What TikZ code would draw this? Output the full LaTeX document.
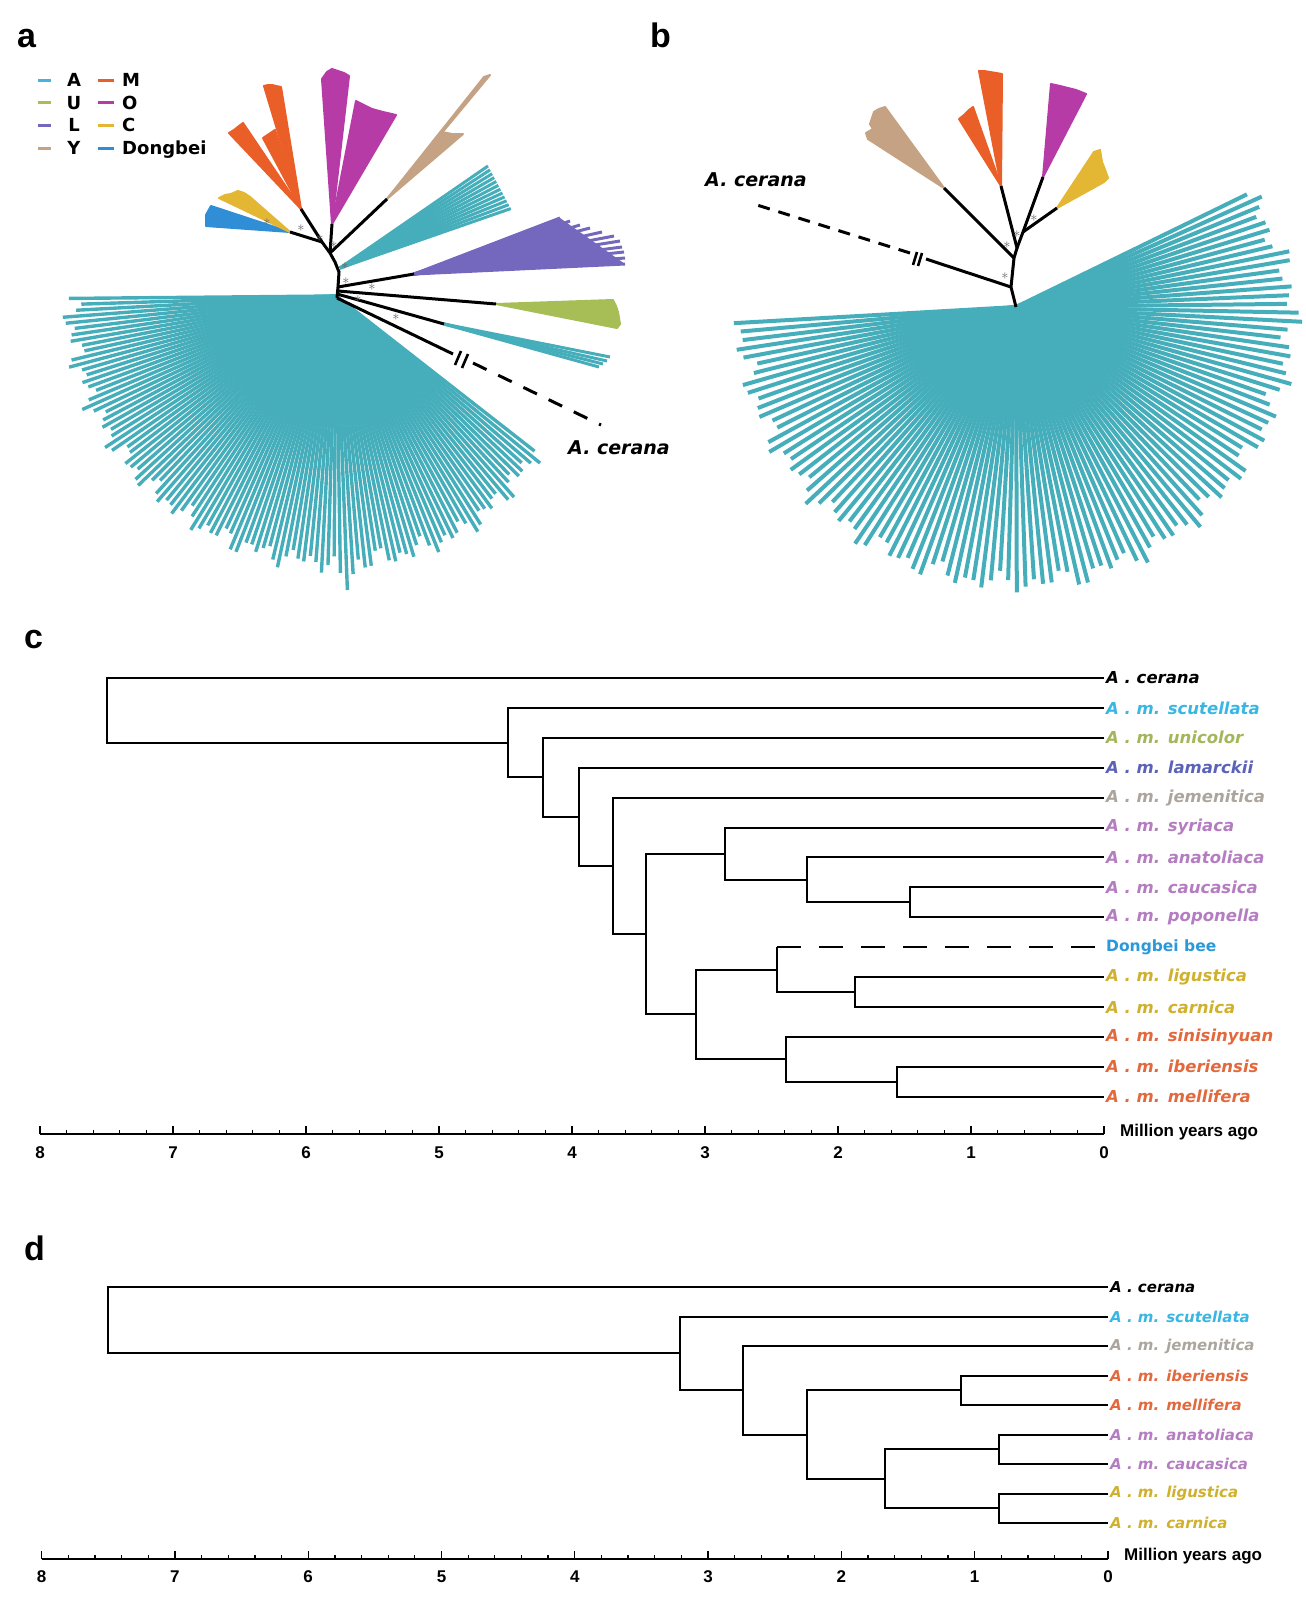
\documentclass[tikz,border=0pt]{standalone}
\usepackage{fontspec}
\setmainfont{DejaVu Sans}
\newfontfamily\arialfont{Liberation Sans}
\usetikzlibrary{calc}

\definecolor{fanteal}{HTML}{45AEBA}
\definecolor{legA}{HTML}{44B4DC}
\definecolor{uGreen}{HTML}{A6BE55}
\definecolor{lPurp}{HTML}{7467BE}
\definecolor{yTan}{HTML}{C4A283}
\definecolor{mOrg}{HTML}{EA5E27}
\definecolor{oMag}{HTML}{B63BA6}
\definecolor{cGold}{HTML}{E3B633}
\definecolor{dBlue}{HTML}{2F8ED6}
\definecolor{scutC}{HTML}{39B6E2}
\definecolor{uniC}{HTML}{A2B75A}
\definecolor{lamC}{HTML}{5B63B8}
\definecolor{jemC}{HTML}{ABA59D}
\definecolor{lilC}{HTML}{B57DC1}
\definecolor{dongC}{HTML}{2B98D8}
\definecolor{goldC}{HTML}{D0B12E}
\definecolor{redC}{HTML}{E2693E}

\begin{document}
\begin{tikzpicture}[x=1pt, y=-1pt,
  br/.style={line width=2pt},
  stem/.style={line width=3pt},
  fan/.style={line width=3.4pt, fanteal},
  clade/.style={line width=3pt},
  wedge/.style={line width=2pt, line join=round},
  ast/.style={inner sep=0, text=black!60, font=\fontsize{15}{15}\selectfont},
  pan/.style={anchor=base west, inner sep=0, font=\arialfont\bfseries\fontsize{34}{34}\selectfont},
  sp/.style={anchor=west, inner sep=2pt, font=\bfseries\itshape\fontsize{16.5}{18}\selectfont},
  spd/.style={sp, font=\bfseries\itshape\fontsize{15}{17}\selectfont},
  num/.style={inner sep=0, font=\arialfont\bfseries\fontsize{17}{17}\selectfont},
  myr/.style={anchor=west, inner sep=0, font=\arialfont\bfseries\fontsize{17}{17}\selectfont},
  leg/.style={anchor=base, inner sep=0, font=\bfseries\fontsize{18}{18}\selectfont},
  ac/.style={anchor=base west, inner sep=0, font=\bfseries\itshape\fontsize{19}{19}\selectfont},
  brk/.style={line width=2.6pt}
]
\useasboundingbox (0,0) rectangle (1306,1598);

% panel letters
\node[pan] (la) at (17,47) {a};
\node[pan] (lb) at (650,47) {b};
\node[pan] (lc) at (24,648) {c};
\node[pan] (ld) at (24,1260) {d};

% legend
\foreach \c/\t [count=\i from 0] in {legA/A, uGreen/U, lPurp/L, yTan/Y}{
  \draw[line width=3pt, \c] (38,{80+22.7*\i}) -- (51,{80+22.7*\i});
  \node[leg] (lg\t) at (74,{86.5+22.7*\i}) {\t};
}
\foreach \c/\t [count=\i from 0] in {mOrg/M, oMag/O, cGold/C, dBlue/Dongbei}{
  \draw[line width=3pt, \c] (98,{80+22.7*\i}) -- (114,{80+22.7*\i});
  \node[leg, anchor=base west] (lg\t) at (122,{86.5+22.7*\i}) {\t};
}

% ---------- a ----------
\coordinate (ra) at (336,296);
\foreach \k in {0,...,108}{
  \pgfmathsetmacro\ang{38+1.31*\k}
  \pgfmathsetmacro\len{266-max(0,14-0.6*(\ang-38))+7*sin(97*\k)+5*sin(53*\k)+max(0,26-9*abs(\ang-88))}
  \draw[fan] (ra) -- ++(\ang:\len);
}
\coordinate (aD) at (290,232);
\filldraw[wedge, dBlue] (aD) -- (211,206) -- (206,215) -- (206,226) -- cycle;
\filldraw[wedge, cGold] (aD) -- (219,198) -- (225,195) -- (231,194) -- (238,191) -- (244,193) -- (250,197) -- cycle;
\coordinate (aM) at (301,209);
\filldraw[wedge, mOrg] (aM) -- (229,133) -- (234,130) -- (239,126) -- (243,123) -- cycle;
\filldraw[wedge, mOrg] (aM) -- (264,86) -- (268,85) -- (272,85) -- (276,86) -- (281,87) -- cycle;
\filldraw[wedge, mOrg] (aM) -- (263,138) -- (269,134) -- (275,130) -- cycle;
\coordinate (aO) at (332,224);
\filldraw[wedge, oMag] (aO) -- (322,79) -- (327,72) -- (332,69) -- (338,71) -- (344,73) -- (349,76) -- cycle;
\filldraw[wedge, oMag] (aO) -- (356,101) -- (364,105) -- (372,109) -- (383,112) -- (396,115) -- cycle;
\coordinate (aY) at (387,199);
\filldraw[wedge, yTan] (aY) -- (484,77) -- (490,75) -- cycle;
\filldraw[wedge, yTan] (aY) -- (442,132) -- (452,134) -- (463,134) -- cycle;
\coordinate (aA) at (340,268);
\foreach \t in {0,0.09,...,1.01}
  \draw[clade, fanteal] (aA) -- ($(488,166)!\t!(511,209)$);
\coordinate (aL) at (414,274);
\fill[lPurp] (aL) -- (560,218) -- (625,264) -- cycle;
\foreach \p in {(560,218),(570,221),(580,225),(590,228),(602,232),(614,236),(620,241),(622,247),(624,252),(625,258),(625,264)}
  \draw[clade, lPurp] (aL) -- \p;
\coordinate (aU) at (496,304);
\filldraw[wedge, uGreen] (aU) -- (613,300) -- (616,306) -- (618,312) -- (619,318) -- (620,324) -- (617,328) -- cycle;
\coordinate (aS) at (444,324);
\foreach \p in {(610,357),(607,361),(603,364),(599,367)}
  \draw[clade, fanteal] (aS) -- \p;

% backbone a
\coordinate (ka0) at (337,298);
\coordinate (ka1) at (338,287);
\coordinate (ka2) at (338,291);
\coordinate (ka3) at (337,294);
\coordinate (ka4) at (339,272);
\coordinate (ka5) at (330,253);
\coordinate (ka6) at (322,242);
\draw[stem] (ka0) -- (ka1) -- (ka4) -- (335,262) -- (ka5) -- (ka6) -- (aM);
\draw[stem] (ka1) -- (aL);
\draw[stem] (ka2) -- (aU);
\draw[stem] (ka3) -- (aS);
\draw[stem] (ka0) -- (453,354);
\draw[stem] (ka5) -- (aY);
\draw[stem] (ka5) -- (aO);
\draw[stem] (ka6) -- (aD);
\draw[brk] (455,365) -- (461,351);
\draw[brk] (462,368) -- (468,354);
\draw[stem, dash pattern=on 15pt off 13pt] (473,363) -- (601,425);
\node[ac] (acA) at (568,454) {A. cerana};
\foreach \p in {(267,222),(301,228),(320,238),(334,245),(345,266),(346,281),(372,287),(358,299),(396,317)}
  \node[ast] at \p {$\ast$};

% ---------- b ----------
\coordinate (rb) at (1016,307);
\foreach \k in {0,...,112}{
  \pgfmathsetmacro\ang{-26+1.81*\k}
  \pgfmathsetmacro\len{276-max(0,19-0.8*(\ang+26))+7*sin(97*\k)+5*sin(53*\k)}
  \draw[fan, line width=4pt] (rb) -- ++(\ang:\len);
}
\coordinate (bY) at (944,188);
\filldraw[wedge, yTan] (bY) -- (868,139) -- (866,133) -- (873,129) -- (870,124) -- (874,112) -- (879,109) -- (885,107) -- cycle;
\coordinate (bM) at (1001,186);
\filldraw[wedge, mOrg] (bM) -- (979,71) -- (984,71) -- (990,72) -- (996,73) -- (1002,74) -- cycle;
\filldraw[wedge, mOrg] (bM) -- (959,119) -- (964,115) -- (969,110) -- (973,107) -- cycle;
\coordinate (bO) at (1043,177);
\filldraw[wedge, oMag] (bO) -- (1051,84) -- (1060,86) -- (1068,88) -- (1076,90) -- (1086,94) -- cycle;
\coordinate (bC) at (1057,208);
\filldraw[wedge, cGold] (bC) -- (1094,152) -- (1100,150) -- (1102,162) -- (1104,167) -- (1108,178) -- (1104,182) -- cycle;

\coordinate (kb1) at (1011,287);
\coordinate (kb2) at (1014,258);
\coordinate (kb3) at (1017,248);
\coordinate (kb4) at (1023,232);
\draw[stem] (rb) -- (kb1) -- (kb2) -- (kb3) -- (bM);
\draw[stem] (kb2) -- (bY);
\draw[stem] (kb3) -- (kb4) -- (bO);
\draw[stem] (kb4) -- (bC);
\draw[stem] (kb1) -- (926,259);
\draw[brk] (913,265) -- (917,252);
\draw[brk] (918,266) -- (922,253);
\draw[stem, dash pattern=on 12pt off 9pt] (910,253) -- (757,205);
\node[ac] (acB) at (705,186) {A. cerana};
\foreach \p in {(1005,276),(1007,245),(1017,234),(1034,218)}
  \node[ast] at \p {$\ast$};

% ---------- c ----------
\begin{scope}[declare function={cx(\t)=1104-133*\t; cy(\r)=678+29.9*\r;}]
\foreach \t/\c [count=\i from 0] in {A . cerana/black, A . m. scutellata/scutC,
    A . m. unicolor/uniC, A . m. lamarckii/lamC, A . m. jemenitica/jemC,
    A . m. syriaca/lilC, A . m. anatoliaca/lilC, A . m. caucasica/lilC,
    A . m. poponella/lilC, {\upshape\fontsize{15.5}{17}\selectfont Dongbei bee}/dongC,
    A . m. ligustica/goldC, A . m. carnica/goldC, A . m. sinisinyuan/redC,
    A . m. iberiensis/redC, A . m. mellifera/redC}
  \node[sp, text=\c] (c\i) at ({cx(0)},{cy(\i)}) {\t};
\coordinate (n0) at ({cx(7.5)},{cy(1.0801)});
\coordinate (n1) at ({cx(4.48)},{cy(2.1602)});
\coordinate (n2) at ({cx(4.22)},{cy(3.3203)});
\coordinate (n3) at ({cx(3.95)},{cy(4.6406)});
\coordinate (n4) at ({cx(3.69)},{cy(6.2813)});
\coordinate (n5) at ({cx(3.44)},{cy(8.5625)});
\coordinate (n6) at ({cx(2.85)},{cy(5.875)});
\coordinate (n7) at ({cx(2.23)},{cy(6.75)});
\coordinate (n8) at ({cx(1.46)},{cy(7.5)});
\coordinate (n9) at ({cx(3.07)},{cy(11.25)});
\coordinate (n10) at ({cx(2.46)},{cy(9.75)});
\coordinate (n11) at ({cx(1.87)},{cy(10.5)});
\coordinate (n12) at ({cx(2.39)},{cy(12.75)});
\coordinate (n13) at ({cx(1.56)},{cy(13.5)});
\draw[br] (c7.west) -| (n8) |- (c8.west);
\draw[br] (c6.west) -| (n7) |- (n8);
\draw[br] (c5.west) -| (n6) |- (n7);
\draw[br] (c10.west) -| (n11) |- (c11.west);
\draw[br] (n10 |- c9.west) |- (n11);
\draw[br, dash pattern=on 24pt off 18pt] (n10 |- c9.west) -- (c9.west);
\draw[br] (c13.west) -| (n13) |- (c14.west);
\draw[br] (c12.west) -| (n12) |- (n13);
\draw[br] (n10) -| (n9) |- (n12);
\draw[br] (n6) -| (n5) |- (n9);
\draw[br] (c4.west) -| (n4) |- (n5);
\draw[br] (c3.west) -| (n3) |- (n4);
\draw[br] (c2.west) -| (n2) |- (n3);
\draw[br] (c1.west) -| (n1) |- (n2);
\draw[br] (c0.west) -| (n0) |- (n1);
% time axis
\draw[br] ({cx(8)},1134) -- ({cx(0)},1134);
\foreach \i in {0,...,40} \draw[line width=1.3pt] ({cx(\i/5)},1134) -- ++(0,-4);
\foreach \i in {0,...,8}{
  \draw[line width=1.3pt] ({cx(\i)},1134) -- ++(0,-8);
  \node[num] (cl\i) at ({cx(\i)},1153) {\i};
}
\node[myr] (cmya) at (1120,1132) {Million years ago};
\end{scope}

% ---------- d ----------
\begin{scope}[declare function={dx(\t)=1108-133.3*\t; dy(\r)=1287+29.5*\r;}]
\foreach \t/\c [count=\i from 0] in {A . cerana/black, A . m. scutellata/scutC,
    A . m. jemenitica/jemC, A . m. iberiensis/redC, A . m. mellifera/redC,
    A . m. anatoliaca/lilC, A . m. caucasica/lilC, A . m. ligustica/goldC,
    A . m. carnica/goldC}
  \node[spd, text=\c] (d\i) at ({dx(0)},{dy(\i)}) {\t};
\coordinate (m0) at ({dx(7.5)},{dy(1.125)});
\coordinate (m1) at ({dx(3.21)},{dy(2.25)});
\coordinate (m2) at ({dx(2.74)},{dy(3.5)});
\coordinate (m3) at ({dx(2.26)},{dy(5)});
\coordinate (m4) at ({dx(1.10)},{dy(3.5)});
\coordinate (m5) at ({dx(1.67)},{dy(6.5)});
\coordinate (m6) at ({dx(0.82)},{dy(5.5)});
\coordinate (m7) at ({dx(0.82)},{dy(7.5)});
\draw[br] (d3.west) -| (m4) |- (d4.west);
\draw[br] (d5.west) -| (m6) |- (d6.west);
\draw[br] (d7.west) -| (m7) |- (d8.west);
\draw[br] (m6) -| (m5) |- (m7);
\draw[br] (m4) -| (m3) |- (m5);
\draw[br] (d2.west) -| (m2) |- (m3);
\draw[br] (d1.west) -| (m1) |- (m2);
\draw[br] (d0.west) -| (m0) |- (m1);
\draw[br] ({dx(8)},1559) -- ({dx(0)},1559);
\foreach \i in {0,...,40} \draw[line width=1.3pt] ({dx(\i/5)},1559) -- ++(0,-4);
\foreach \i in {0,...,8}{
  \draw[line width=1.3pt] ({dx(\i)},1559) -- ++(0,-8);
  \node[num] (dl\i) at ({dx(\i)},1577) {\i};
}
\node[myr] (dmya) at (1124,1556) {Million years ago};
\end{scope}
\end{tikzpicture}
\end{document}
